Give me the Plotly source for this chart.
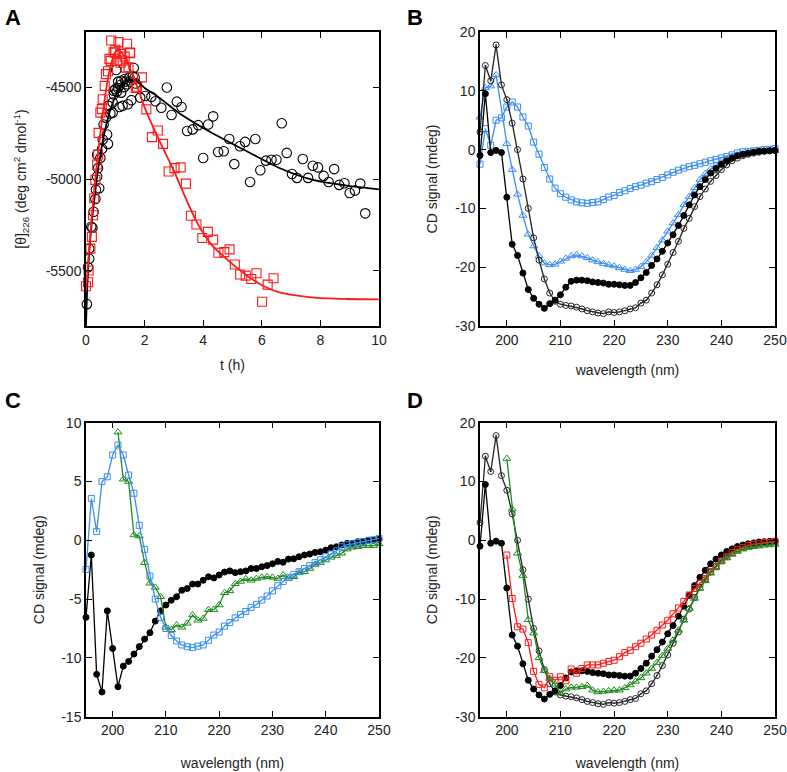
import plotly.graph_objects as go

# ---------------- Panel A data ----------------
a_black_t = [0.03, 0.07, 0.11, 0.11, 0.18, 0.22, 0.26, 0.32, 0.34, 0.38,
             0.41, 0.45, 0.38, 0.49, 0.55, 0.57, 0.60, 0.68, 0.72, 0.75,
             0.77, 0.83, 0.91, 0.91, 0.94, 1.00, 1.03, 1.09, 1.14, 1.20,
             1.25, 1.32, 1.40, 1.43, 1.48, 1.55, 1.63, 1.66, 1.85, 2.02,
             2.23, 2.37, 2.57, 2.76, 2.92, 3.10, 3.26, 3.45, 3.64, 3.83,
             4.00, 4.17, 4.34, 4.51, 4.70, 4.89, 5.06, 5.25, 5.43, 5.60,
             5.78, 5.95, 6.14, 6.33, 6.50, 6.68, 6.85, 7.03, 7.20, 7.40,
             7.58, 7.74, 7.92, 8.11, 8.28, 8.47, 8.64, 8.82, 9.00, 9.18,
             9.36, 9.53, 0.95, 1.05, 1.15, 1.30, 1.35, 1.50, 1.60, 1.70,
             1.20, 1.10]
a_black_y = [-5681, -5480, -5434, -5379, -5260, -5265, -5178, -5109, -5059, -4986,
             -4941, -5050, -4867, -4886, -4835, -4785, -4703, -4666, -4758, -4809,
             -4602, -4644, -4639, -4584, -4520, -4511, -4407, -4505, -4608, -4465,
             -4602, -4456, -4484, -4593, -4447, -4571, -4396, -4447, -4557, -4548,
             -4553, -4577, -4612, -4502, -4652, -4579, -4608, -4739, -4730, -4707,
             -4886, -4703, -4659, -4853, -4849, -4782, -4919, -4822, -4798, -5016,
             -4782, -4952, -4900, -4895, -4895, -4697, -4858, -4973, -4994, -4891,
             -4994, -4928, -4937, -4983, -5016, -4946, -5032, -5023, -5076, -5063,
             -5025, -5187, -4540, -4525, -4490, -4500, -4470, -4470, -4440, -4480,
             -4530, -4470]

a_red_t = [0.00, 0.07, 0.09, 0.15, 0.20, 0.24, 0.28, 0.32, 0.38, 0.41,
           0.43, 0.49, 0.54, 0.57, 0.64, 0.68, 0.75, 0.80, 0.86, 0.94,
           1.00, 1.06, 1.11, 1.17, 1.25, 1.32, 1.40, 1.45, 1.51, 1.74,
           1.91, 2.06, 2.25, 2.45, 2.63, 2.82, 3.02, 3.23, 3.41, 3.58,
           3.77, 3.97, 4.16, 4.34, 4.52, 4.72, 4.90, 5.08, 5.26, 5.45,
           5.64, 5.82, 6.01, 6.20, 6.40, 0.84, 0.99, 1.18, 1.36, 1.50, 1.70]
a_red_y = [-5584, -5562, -5498, -5379, -5315, -5197, -5105, -5005, -4922, -4867,
           -4749, -4639, -4620, -4566, -4493, -4429, -4414, -4346, -4246, -4310,
           -4297, -4356, -4255, -4319, -4356, -4334, -4264, -4392, -4315, -4498,
           -4447, -4621, -4772, -4736, -4809, -4959, -4941, -4937, -5025, -5200,
           -5248, -5321, -5288, -5330, -5401, -5398, -5383, -5465, -5520, -5526,
           -5544, -5513, -5668, -5575, -5540, -4357, -4312, -4367, -4394, -4312, -4504]

a_black_fit_t = [0, 0.05, 0.1, 0.2, 0.3, 0.4, 0.5, 0.6, 0.7, 0.8, 1.0, 1.2, 1.4, 1.6,
                 1.8, 2.0, 2.4, 2.8, 3.3, 4.3, 5.5, 6.6, 7.75, 8.9, 10]
a_black_fit_y = [-5800, -5560, -5420, -5230, -5090, -4960, -4860, -4770, -4700, -4640,
                 -4550, -4495, -4465, -4458, -4475, -4505, -4545, -4595, -4655, -4750,
                 -4850, -4940, -5005, -5036, -5056]
a_red_fit_t = [0, 0.1, 0.2, 0.3, 0.4, 0.5, 0.6, 0.7, 0.8, 0.9, 1.0, 1.1, 1.2, 1.4, 1.6,
               1.8, 2.0, 2.5, 3.0, 3.2, 3.8, 4.3, 4.9, 5.5, 6.0, 6.6, 7.7, 8.9, 10]
a_red_fit_y = [-5610, -5400, -5200, -5030, -4880, -4740, -4610, -4500, -4410, -4350,
               -4310, -4300, -4310, -4360, -4440, -4520, -4610, -4790, -4955, -5030,
               -5240, -5360, -5450, -5526, -5578, -5617, -5644, -5653, -5655]

# ---------------- CD spectra data (195..250 nm) ----------------
wavelength = list(range(195, 251))

black_filled = [-1.0, 9.5, -0.5, -0.15, -0.5, -8.1, -16.1, -18.0, -21.0, -23.8,
                -25.3, -26.3, -27.0, -26.2, -25.6, -24.7, -23.4, -22.4, -22.2, -22.2,
                -22.3, -22.5, -22.6, -22.7, -22.9, -22.9, -23.0, -23.1, -23.1, -22.6,
                -21.8, -20.9, -19.7, -18.6, -17.3, -15.9, -14.5, -12.9, -11.2, -9.4,
                -7.7, -6.3, -5.1, -4.0, -3.2, -2.5, -1.9, -1.45, -1.05, -0.8,
                -0.6, -0.45, -0.3, -0.25, -0.2, -0.15]
black_open = [3.0, 14.3, 11.7, 17.8, 11.0, 8.5, 4.5, 0.0, -5.0, -10.0,
              -15.0, -18.8, -22.0, -24.4, -25.8, -26.3, -26.5, -26.6, -26.8, -27.1,
              -27.4, -27.6, -27.8, -27.9, -27.6, -27.7, -27.6, -27.4, -27.1, -26.9,
              -26.1, -25.6, -24.4, -23.0, -21.3, -19.5, -17.5, -15.6, -13.4, -11.7,
              -9.7, -8.0, -6.7, -5.4, -4.4, -3.4, -2.6, -1.9, -1.45, -1.05,
              -0.8, -0.6, -0.45, -0.3, -0.2, -0.15]
blue_triangles = [5.5, 10.5, 10.8, 12.7, None, 1.0, -3.4, -7.6, -11.2, -14.4,
                  -16.4, -18.1, -19.3, -19.6, -19.5, -19.0, -18.5, -18.1, -17.9, -18.1,
                  -18.4, -18.8, -19.1, -19.4, -19.6, -19.8, -20.1, -20.4, -20.6, -20.4,
                  -19.9, -19.1, -18.0, -16.7, -15.4, -13.9, -12.5, -11.1, -9.4, -8.0,
                  -6.5, -5.1, -4.1, -3.3, -2.7, -2.0, -1.6, -1.2, -0.9, -0.7,
                  -0.5, -0.4, -0.3, -0.25, -0.2, -0.2]
blue_squares = [-2.48, 3.56, 0.74, 4.99, 5.4, 7.25, 8.1, 7.25, 5.55, 4.0,
                1.27, -0.77, -3.04, -5.0, -6.55, -7.5, -8.1, -8.56, -8.9, -9.05,
                -9.13, -9.0, -8.9, -8.5, -8.06, -7.8, -7.3, -7.0, -6.6, -6.3,
                -6.05, -5.7, -5.45, -5.08, -4.74, -4.3, -3.86, -3.5, -3.15, -2.9,
                -2.67, -2.4, -2.15, -1.9, -1.65, -1.4, -1.17, -0.9, -0.55, -0.37,
                -0.3, -0.2, -0.12, 0.0, 0.05, 0.16]
c_black = [-6.55, -1.25, -11.4, -12.9, -6.0, -9.2, -12.45, -10.7, -10.3, -9.67,
           -9.04, -8.4, -7.86, -6.87, -6.0, -5.5, -5.1, -4.8, -4.25, -4.1,
           -3.72, -3.72, -3.4, -3.1, -3.2, -2.95, -2.7, -2.6, -2.75, -2.67,
           -2.6, -2.4, -2.4, -2.25, -2.15, -2.0, -1.8, -1.87, -1.6, -1.57,
           -1.4, -1.25, -1.17, -1.03, -0.97, -0.83, -0.63, -0.55, -0.4, -0.26,
           -0.26, -0.12, -0.1, 0.0, 0.0, 0.08]
c_green = [None, None, None, None, None, None,
           9.2, 5.2, 5.0, 0.45, 0.36, -1.9, -3.65, -4.0, -4.8, -7.4,
           -7.6, -7.2, -7.4, -7.06, -6.35, -6.8, -6.65, -5.9, -5.9, -5.5,
           -4.46, -4.3, -3.7, -3.5, -3.27, -3.4, -3.25, -3.15, -3.1, -3.15,
           -3.25, -2.95, -3.25, -3.1, -2.75, -2.67, -2.4, -2.05, -1.9, -1.68,
           -1.45, -1.3, -1.1, -0.75, -0.6, -0.55, -0.46, -0.46, -0.46, -0.3]
d_green = [None, None, None, None, None,
           13.9, 5.3, -2.2, -6.0, -13.5, -15.8, -20.0, -22.2, -23.5, -24.5,
           -26.0, -25.3, -25.0, -25.0, -24.9, -24.7, -25.5, -25.8, -25.7, -25.6,
           -25.5, -25.5, -25.1, -24.6, -24.0, -23.4, -22.6, -21.8, -20.8, -19.6,
           -18.4, -17.0, -15.3, -13.6, -11.6, -9.9, -8.2, -6.9, -5.6, -4.6,
           -3.6, -3.0, -2.4, -1.9, -1.5, -1.25, -1.1, -1.0, -0.85, -0.8, -0.7]
d_red = [None, None, None, None, None,
         -2.5, -9.9, -14.7, -15.1, -17.4, -22.3, -24.5, -25.1, -23.2, -23.8,
         -23.2, -23.9, -21.9, -22.6, -21.8, -21.2, -21.2, -21.2, -20.9, -20.6,
         -20.4, -19.8, -19.1, -18.7, -18.1, -17.5, -16.8, -16.1, -15.3, -14.4,
         -13.6, -12.5, -11.5, -10.4, -9.3, -8.2, -7.3, -6.5, -5.3, -4.5,
         -3.5, -2.8, -2.1, -1.6, -1.25, -0.9, -0.7, -0.6, -0.4, -0.35, -0.2]

a_xticks = [0, 2, 4, 6, 8, 10]
a_yticks = [-4500, -5000, -5500]
a_yticktext = ["-4500", "-5000", "-5500"]
wl_ticks = [200, 210, 220, 230, 240, 250]
bd_yticks = [-30, -20, -10, 0, 10, 20]
bd_yticktext = ["-30", "-20", "-10", "0", "10", "20"]
c_yticks = [-15, -10, -5, 0, 5, 10]
c_yticktext = ["-15", "-10", "-5", "0", "5", "10"]

BLUE = "#3a8ef0"
GREEN = "#1f8a1f"
RED = "#ff1a1a"
FONT = "Liberation Sans"

W, H = 787, 772


def dom_x(l, r):
    return [l / W, r / W]


def dom_y(t, b):
    return [1 - b / H, 1 - t / H]


fig = go.Figure()


def cd_trace(y, color, symbol, size, xa, ya, lw=1.3, mlw=1.0):
    fig.add_trace(go.Scatter(
        x=wavelength, y=y, mode="lines+markers", connectgaps=True, cliponaxis=False,
        line=dict(color=color, width=lw),
        marker=dict(symbol=symbol, size=size, color=color, line=dict(color=color, width=mlw)),
        xaxis=xa, yaxis=ya, showlegend=False))


# Panel A
fig.add_trace(go.Scatter(x=a_black_t, y=a_black_y, mode="markers", cliponaxis=False,
                         marker=dict(symbol="circle-open", size=9.5, color="black", line=dict(width=1.1)),
                         xaxis="x", yaxis="y", showlegend=False))
fig.add_trace(go.Scatter(x=a_red_t, y=a_red_y, mode="markers", cliponaxis=False,
                         marker=dict(symbol="square-open", size=9, color=RED, line=dict(width=1.1)),
                         xaxis="x", yaxis="y", showlegend=False))
fig.add_trace(go.Scatter(x=a_black_fit_t, y=a_black_fit_y, mode="lines",
                         line=dict(color="black", width=1.8, shape="spline", smoothing=0.8),
                         xaxis="x", yaxis="y", showlegend=False))
fig.add_trace(go.Scatter(x=a_red_fit_t, y=a_red_fit_y, mode="lines",
                         line=dict(color=RED, width=1.8, shape="spline", smoothing=0.8),
                         xaxis="x", yaxis="y", showlegend=False))

# Panel B
cd_trace(blue_squares, BLUE, "square-open", 6, "x2", "y2")
cd_trace(blue_triangles, BLUE, "triangle-up-open", 7, "x2", "y2")
cd_trace(black_open, "#222222", "circle-open-dot", 6, "x2", "y2")
cd_trace(black_filled, "black", "circle", 6, "x2", "y2")

# Panel C
cd_trace(c_black, "black", "circle", 6, "x3", "y3")
cd_trace(c_green, GREEN, "triangle-up-open", 7, "x3", "y3")
cd_trace(blue_squares, BLUE, "square-open", 6, "x3", "y3")

# Panel D
cd_trace(black_open, "#222222", "circle-open-dot", 6, "x4", "y4")
cd_trace(black_filled, "black", "circle", 6, "x4", "y4")
cd_trace(d_red, RED, "square-open", 6, "x4", "y4")
cd_trace(d_green, GREEN, "triangle-up-open", 7, "x4", "y4")

tickfont = dict(family=FONT, size=14, color="#222")
titlefont = dict(family=FONT, size=14, color="#222")


def axis(domain, rng, tickvals, ticktext=None, title=None, anchor=None, standoff=None):
    d = dict(domain=domain, range=rng, tickvals=tickvals, showline=True, linecolor="black",
             linewidth=1.5, mirror="ticks", ticks="inside", ticklen=6, tickwidth=1.2,
             tickcolor="black", showgrid=False, zeroline=False, tickfont=tickfont,
             automargin=False, anchor=anchor)
    if ticktext is not None:
        d["ticktext"] = ticktext
    if title is not None:
        d["title"] = dict(text=title, font=titlefont, standoff=standoff)
    return d


xA = dom_x(86, 379)
xB = dom_x(480, 775)
yTop = dom_y(32, 326)
yBot = dom_y(422.7, 716.7)

fig.update_layout(
    width=W, height=H, margin=dict(l=0, r=0, t=0, b=0),
    paper_bgcolor="white", plot_bgcolor="white",
    xaxis=axis(xA, [0, 10], a_xticks, [str(v) for v in a_xticks], "t (h)", "y", 14),
    yaxis=axis(yTop, [-5800, -4200], a_yticks, a_yticktext,
               "[θ]<sub>226</sub> (deg cm<sup>2</sup> dmol<sup>-1</sup>)", "x", 16),
    xaxis2=axis(xB, [195, 250], wl_ticks, None, "wavelength (nm)", "y2", 19),
    yaxis2=axis(yTop, [-30, 20], bd_yticks, bd_yticktext, "CD signal (mdeg)", "x2", 14),
    xaxis3=axis(xA, [195, 250], wl_ticks, None, "wavelength (nm)", "y3", 21),
    yaxis3=axis(yBot, [-15, 10], c_yticks, c_yticktext, "CD signal (mdeg)", "x3", 13),
    xaxis4=axis(xB, [195, 250], wl_ticks, None, "wavelength (nm)", "y4", 21),
    yaxis4=axis(yBot, [-30, 20], bd_yticks, bd_yticktext, "CD signal (mdeg)", "x4", 14),
)

for letter, px, py in [("A", 3, 3), ("B", 405, 3), ("C", 3, 386), ("D", 405, 386)]:
    fig.add_annotation(text="<b>%s</b>" % letter, xref="paper", yref="paper",
                       x=px / W, y=1 - py / H, xanchor="left", yanchor="top", showarrow=False,
                       font=dict(family=FONT, size=22, color="black"))

fig.write_html("out.html", config={"displayModeBar": False},
               post_script="document.body.style.margin='0';document.body.style.overflow='hidden';")
